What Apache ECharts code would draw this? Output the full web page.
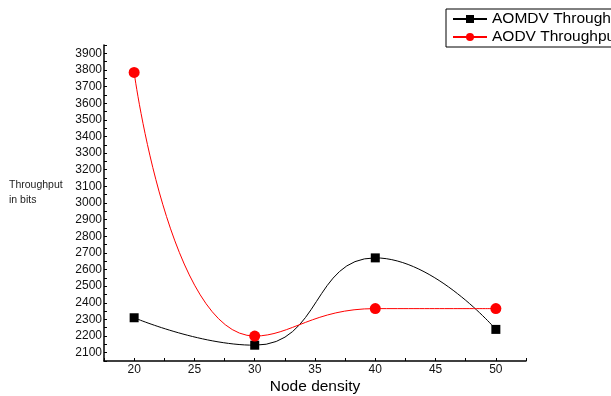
<!DOCTYPE html>
<html>
<head>
<meta charset="utf-8">
<script src="https://cdn.jsdelivr.net/npm/echarts@6/dist/echarts.min.js"></script>
<style>
  html, body { margin: 0; padding: 0; background: #fff; }
  #chart { width: 611px; height: 396px; }
</style>
</head>
<body>
<div id="chart"></div>
<script>
// node density (x values)
const nodeDensity = [20, 30, 40, 50];
// throughput in bits
const aomdvThroughput = [2310, 2145, 2670, 2240];
const aodvThroughput = [3785, 2200, 2365, 2365];

const seriesNames = ['AOMDV Throughput', 'AODV Throughput'];

const chart = echarts.init(document.getElementById('chart'));

const toPairs = (ys) => nodeDensity.map((x, i) => [x, ys[i]]);

const font = 'Arial, Liberation Sans, sans-serif';

chart.setOption({
  backgroundColor: '#fff',
  animation: false,
  title: {
    text: 'Throughput\nin bits',
    left: 4,
    top: 173,
    textStyle: { fontSize: 10.5, fontWeight: 'normal', color: '#222', lineHeight: 15, fontFamily: font },
  },
  legend: {
    orient: 'vertical',
    left: 446,
    top: 9,
    padding: [2, 6, 2, 6],
    itemGap: 2,
    itemWidth: 34,
    itemHeight: 10,
    borderColor: '#000',
    borderWidth: 1,
    textStyle: { color: '#000', fontSize: 15.5, fontFamily: font },
    data: seriesNames,
  },
  grid: { left: 104, top: 45, right: 85, bottom: 35, outerBoundsMode: 'none' },
  xAxis: {
    type: 'value',
    min: 17.5,
    max: 52.5,
    interval: 2.5,
    name: 'Node density',
    nameLocation: 'middle',
    nameGap: 18,
    nameMoveOverlap: false,
    nameTextStyle: { color: '#000', fontSize: 15.5, fontFamily: font },
    axisLine: { lineStyle: { color: '#000', width: 1.5 } },
    axisTick: { inside: true, length: 3, lineStyle: { color: '#000' } },
    axisLabel: {
      color: '#111',
      fontFamily: font,
      fontSize: 12,
      margin: 3,
      formatter: (v) => (v % 5 === 0 ? String(v) : ''),
    },
    splitLine: { show: false },
  },
  yAxis: {
    type: 'value',
    min: 2050,
    max: 3950,
    interval: 50,
    axisLine: { show: true, lineStyle: { color: '#000', width: 1.5 } },
    axisTick: { show: true, inside: true, length: 3, lineStyle: { color: '#000' } },
    axisLabel: {
      color: '#111',
      fontFamily: font,
      fontSize: 12,
      margin: 2,
      formatter: (v) => (v % 100 === 0 ? String(v) : ''),
    },
    splitLine: { show: false },
  },
  series: [
    {
      name: seriesNames[0],
      type: 'line',
      data: toPairs(aomdvThroughput),
      smooth: 0.5,
      symbol: 'rect',
      symbolSize: 9,
      lineStyle: { color: '#000', width: 1 },
      itemStyle: { color: '#000' },
    },
    {
      name: seriesNames[1],
      type: 'line',
      data: toPairs(aodvThroughput),
      smooth: 0.5,
      symbol: 'circle',
      symbolSize: 11,
      lineStyle: { color: '#ff0000', width: 1 },
      itemStyle: { color: '#ff0000' },
    },
  ],
});
</script>
</body>
</html>
